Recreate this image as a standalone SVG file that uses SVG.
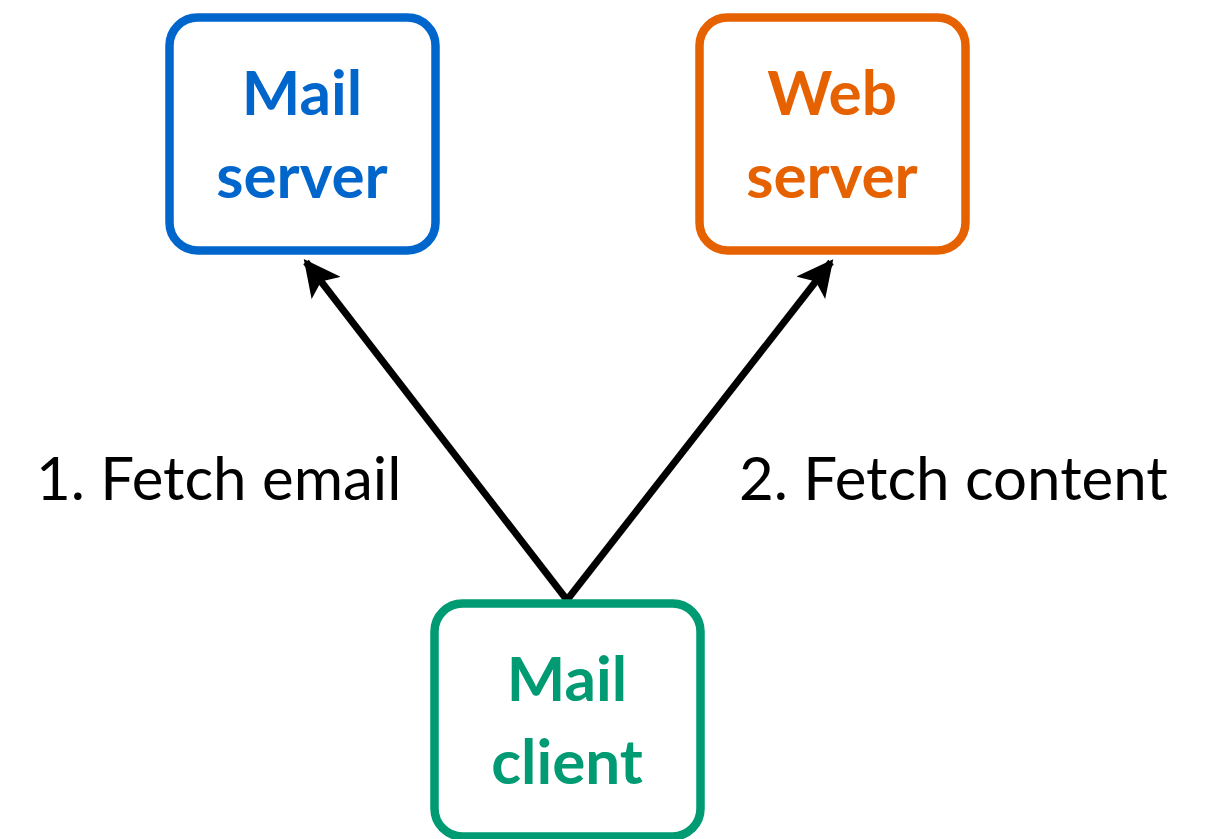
<svg xmlns="http://www.w3.org/2000/svg" width="1206" height="839" viewBox="0 0 1206 839">
  <defs>
    <marker id="arrow" viewBox="0 0 10 10" refX="9" refY="5" markerWidth="5.2" markerHeight="5.2" markerUnits="strokeWidth" orient="auto">
      <path d="M0,0 L10,5 L0,10 L2.2,5 Z" fill="#000"/>
    </marker>
    <style>
      .box { fill: #fff; stroke-width: 8.5; }
      .name { font-family: Lato, "Liberation Sans", sans-serif; font-weight: bold; font-size: 62px; text-anchor: middle; }
      .label { font-family: Lato, "Liberation Sans", sans-serif; font-size: 60px; fill: #000; }
      .edge { stroke: #000; stroke-width: 7; fill: none; }
    </style>
  </defs>
  <rect width="1206" height="839" fill="#fff"/>

  <g id="connectors">
    <line class="edge" x1="567" y1="600" x2="306" y2="262" marker-end="url(#arrow)"/>
    <line class="edge" x1="567" y1="600" x2="831" y2="262" marker-end="url(#arrow)"/>
    <text class="label" x="36" y="500">1. Fetch email</text>
    <text class="label" x="739" y="500">2. Fetch content</text>
  </g>

  <g id="mail-server">
    <rect class="box" x="169.5" y="17.5" width="266" height="233" rx="28" stroke="#0066CC"/>
    <text class="name" x="302" y="115" fill="#0066CC">Mail</text>
    <text class="name" x="302" y="198" fill="#0066CC">server</text>
  </g>

  <g id="web-server">
    <rect class="box" x="699.5" y="17.5" width="266" height="233" rx="28" stroke="#E66100"/>
    <text class="name" x="832" y="115" fill="#E66100">Web</text>
    <text class="name" x="832" y="198" fill="#E66100">server</text>
  </g>

  <g id="mail-client">
    <rect class="box" x="434.5" y="603.5" width="266" height="233" rx="28" stroke="#009B72"/>
    <text class="name" x="567" y="701" fill="#009B72">Mail</text>
    <text class="name" x="567" y="784" fill="#009B72">client</text>
  </g>
</svg>
